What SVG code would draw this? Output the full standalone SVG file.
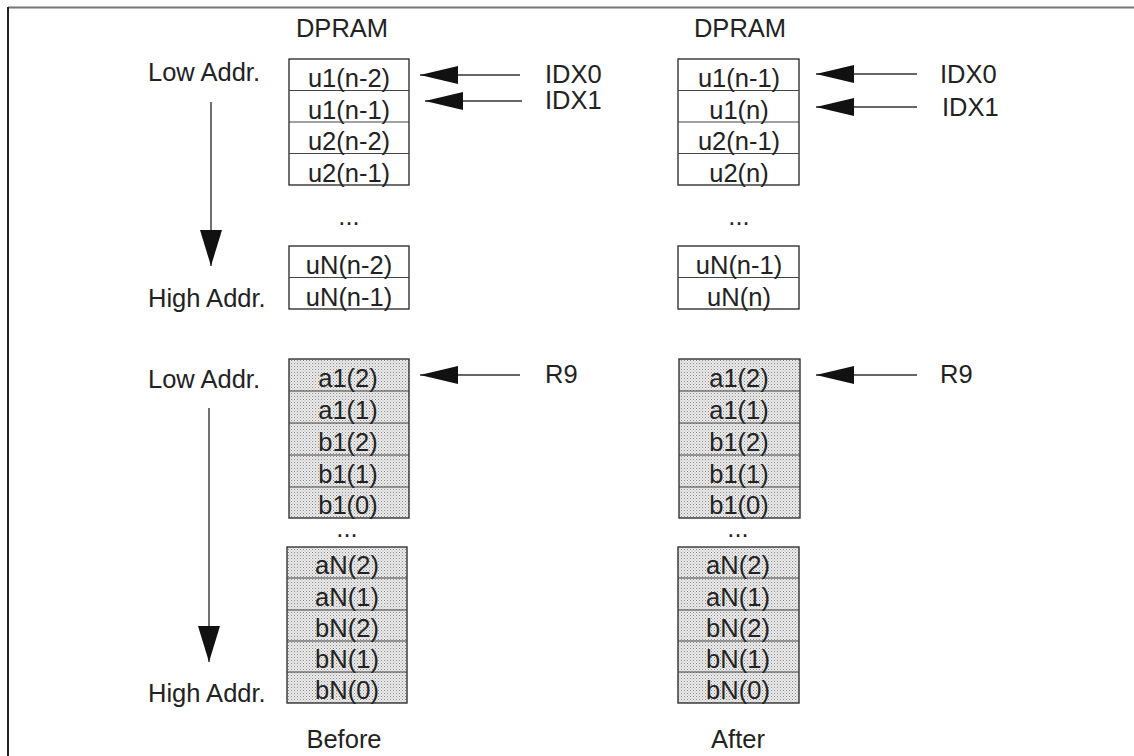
<svg xmlns="http://www.w3.org/2000/svg" width="1134" height="756" viewBox="0 0 1134 756">
<defs>
<style>
text{font-family:"Liberation Sans",Arial,sans-serif;font-size:25.5px;fill:#222}
.c{text-anchor:middle}
.box{fill:#fff;stroke:#333;stroke-width:1.4}
.sh{fill:url(#dots);stroke:#333;stroke-width:1.4}
.sep{stroke:#444;stroke-width:1.2}
.ln{stroke:#333;stroke-width:1.4;fill:none}
</style>
<pattern id="dots" width="3" height="3" patternUnits="userSpaceOnUse">
<rect width="3" height="3" fill="#ececec"/>
<rect width="1" height="1" fill="#888"/>
<rect x="1.5" y="1.5" width="1" height="1" fill="#aaa"/>
</pattern>
<marker id="ah" markerUnits="userSpaceOnUse" markerWidth="38" markerHeight="18" refX="38" refY="9" orient="auto">
<path d="M0,0 L38,9 L0,18 Z" fill="#111"/>
</marker>
<marker id="dh" markerUnits="userSpaceOnUse" markerWidth="36" markerHeight="22" refX="36" refY="11" orient="auto">
<path d="M0,0 L36,11 L0,22 Z" fill="#111"/>
</marker>
</defs>
<rect width="1134" height="756" fill="#fff"/>
<g id="frame">
<line x1="8" y1="7.5" x2="1134" y2="7.5" stroke="#777" stroke-width="2"/>
<line x1="8" y1="7" x2="8" y2="756" stroke="#222" stroke-width="2"/>
</g>
<g id="labels">
<text class="c" x="342" y="37">DPRAM</text>
<text class="c" x="740" y="37">DPRAM</text>
<text x="148" y="81">Low Addr.</text>
<text x="148" y="307">High Addr.</text>
<text x="148" y="388">Low Addr.</text>
<text x="148" y="702">High Addr.</text>
<text x="545" y="83">IDX0</text>
<text x="545" y="109">IDX1</text>
<text x="940" y="83">IDX0</text>
<text x="942" y="116">IDX1</text>
<text x="545" y="383">R9</text>
<text x="940" y="383">R9</text>
<text class="c" x="349" y="225">...</text>
<text class="c" x="739" y="225">...</text>
<text class="c" x="347" y="537">...</text>
<text class="c" x="738" y="537">...</text>
<text class="c" x="344" y="748">Before</text>
<text class="c" x="738" y="748">After</text>
</g>
<g id="before-u-top">
<rect class="box" x="289" y="59" width="120" height="126"/>
<line class="sep" x1="289" y1="90.5" x2="409" y2="90.5"/>
<line class="sep" x1="289" y1="122" x2="409" y2="122"/>
<line class="sep" x1="289" y1="153.5" x2="409" y2="153.5"/>
<text class="c" x="349" y="87">u1(n-2)</text>
<text class="c" x="349" y="118.5">u1(n-1)</text>
<text class="c" x="349" y="150">u2(n-2)</text>
<text class="c" x="349" y="181.5">u2(n-1)</text>
</g>
<g id="before-u-bot">
<rect class="box" x="289" y="246" width="120" height="63"/>
<line class="sep" x1="289" y1="277.5" x2="409" y2="277.5"/>
<text class="c" x="349" y="274">uN(n-2)</text>
<text class="c" x="349" y="305.5">uN(n-1)</text>
</g>
<g id="after-u-top">
<rect class="box" x="678" y="59" width="121" height="126"/>
<line class="sep" x1="678" y1="90.5" x2="799" y2="90.5"/>
<line class="sep" x1="678" y1="122" x2="799" y2="122"/>
<line class="sep" x1="678" y1="153.5" x2="799" y2="153.5"/>
<text class="c" x="739" y="87">u1(n-1)</text>
<text class="c" x="739" y="118.5">u1(n)</text>
<text class="c" x="739" y="150">u2(n-1)</text>
<text class="c" x="739" y="181.5">u2(n)</text>
</g>
<g id="after-u-bot">
<rect class="box" x="678" y="246" width="121" height="63"/>
<line class="sep" x1="678" y1="277.5" x2="799" y2="277.5"/>
<text class="c" x="739" y="274">uN(n-1)</text>
<text class="c" x="739" y="305.5">uN(n)</text>
</g>
<g id="before-a-top">
<rect class="sh" x="289" y="359" width="120" height="159"/>
<line class="sep" x1="289" y1="391" x2="409" y2="391"/>
<line class="sep" x1="289" y1="423" x2="409" y2="423"/>
<line class="sep" x1="289" y1="455" x2="409" y2="455"/>
<line class="sep" x1="289" y1="487" x2="409" y2="487"/>
<text class="c" x="348" y="387">a1(2)</text>
<text class="c" x="348" y="419">a1(1)</text>
<text class="c" x="348" y="451">b1(2)</text>
<text class="c" x="348" y="483">b1(1)</text>
<text class="c" x="348" y="514">b1(0)</text>
</g>
<g id="before-a-bot">
<rect class="sh" x="287" y="547" width="120" height="156"/>
<line class="sep" x1="287" y1="578" x2="407" y2="578"/>
<line class="sep" x1="287" y1="610" x2="407" y2="610"/>
<line class="sep" x1="287" y1="641" x2="407" y2="641"/>
<line class="sep" x1="287" y1="672" x2="407" y2="672"/>
<text class="c" x="347" y="574">aN(2)</text>
<text class="c" x="347" y="606">aN(1)</text>
<text class="c" x="347" y="637">bN(2)</text>
<text class="c" x="347" y="668">bN(1)</text>
<text class="c" x="347" y="699">bN(0)</text>
</g>
<g id="after-a-top">
<rect class="sh" x="679" y="359" width="121" height="159"/>
<line class="sep" x1="679" y1="391" x2="800" y2="391"/>
<line class="sep" x1="679" y1="423" x2="800" y2="423"/>
<line class="sep" x1="679" y1="455" x2="800" y2="455"/>
<line class="sep" x1="679" y1="487" x2="800" y2="487"/>
<text class="c" x="739" y="387">a1(2)</text>
<text class="c" x="739" y="419">a1(1)</text>
<text class="c" x="739" y="451">b1(2)</text>
<text class="c" x="739" y="483">b1(1)</text>
<text class="c" x="739" y="514">b1(0)</text>
</g>
<g id="after-a-bot">
<rect class="sh" x="678" y="547" width="121" height="156"/>
<line class="sep" x1="678" y1="578" x2="799" y2="578"/>
<line class="sep" x1="678" y1="610" x2="799" y2="610"/>
<line class="sep" x1="678" y1="641" x2="799" y2="641"/>
<line class="sep" x1="678" y1="672" x2="799" y2="672"/>
<text class="c" x="738" y="574">aN(2)</text>
<text class="c" x="738" y="606">aN(1)</text>
<text class="c" x="738" y="637">bN(2)</text>
<text class="c" x="738" y="668">bN(1)</text>
<text class="c" x="738" y="699">bN(0)</text>
</g>
<g id="connectors">
<line class="ln" x1="520" y1="75" x2="420" y2="75" marker-end="url(#ah)"/>
<line class="ln" x1="522" y1="101" x2="425" y2="101" marker-end="url(#ah)"/>
<line class="ln" x1="917" y1="74" x2="816" y2="74" marker-end="url(#ah)"/>
<line class="ln" x1="917" y1="107" x2="816" y2="107" marker-end="url(#ah)"/>
<line class="ln" x1="520" y1="375" x2="420" y2="375" marker-end="url(#ah)"/>
<line class="ln" x1="917" y1="375" x2="816" y2="375" marker-end="url(#ah)"/>
<line class="ln" x1="211" y1="102" x2="211" y2="266" marker-end="url(#dh)"/>
<line class="ln" x1="209" y1="408" x2="209" y2="662" marker-end="url(#dh)"/>
</g>
</svg>
